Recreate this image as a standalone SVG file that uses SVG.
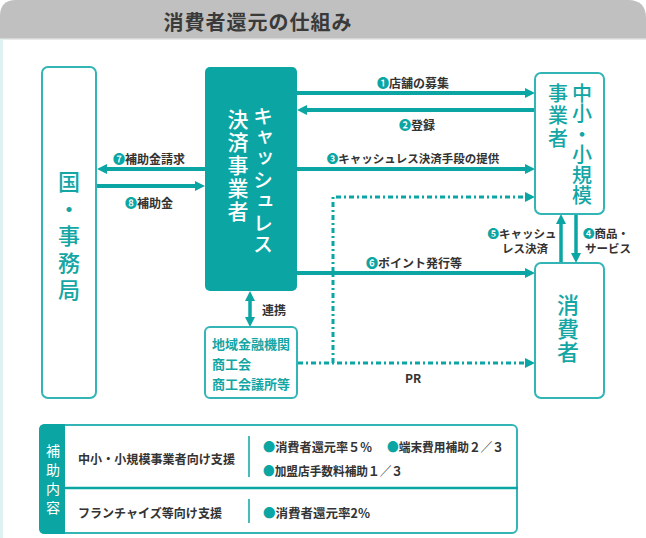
<svg xmlns="http://www.w3.org/2000/svg" width="646" height="538" viewBox="0 0 646 538">
<style>
text{font-family:"Noto Sans CJK JP","Noto Sans",sans-serif}
.lbl{font-size:12px;font-weight:700;fill:#333;text-anchor:middle;dominant-baseline:central}
.num{fill:#0ba6a3}
.ln{stroke:#0ba6a3;stroke-width:4;fill:none}
.vl{stroke:#0ba6a3;stroke-width:3.5;fill:none}
.dot{stroke:#0ba6a3;stroke-width:3;fill:none;stroke-dasharray:5 3 2 3}
.box{fill:#fff;stroke:#33b5b5;stroke-width:2}
.vt{writing-mode:vertical-rl;font-weight:500}
.tq{fill:#14a6a4}
.tb{font-size:12.5px;font-weight:700;fill:#333;dominant-baseline:central}
</style>
<defs>
<marker id="ah" markerUnits="userSpaceOnUse" markerWidth="10" markerHeight="10" refX="4" refY="5" orient="auto-start-reverse" viewBox="0 0 10 10">
<path d="M0,0 L10,5 L0,10 z" fill="#0ba6a3"/>
</marker>
</defs>
<g id="header">
<path d="M0,38 V16 Q0,0 16,0 H628 Q646,0 646,18 V38 Z" fill="#c0c0c0"/>
<rect x="0" y="38" width="646" height="1.5" fill="#d6d6d6"/>
<rect x="0" y="39" width="3" height="499" fill="#e0f1f3"/>
<text x="258" y="21" style="font-size:20px;font-weight:700;fill:#3a3a3a;text-anchor:middle;dominant-baseline:central;letter-spacing:1px">消費者還元の仕組み</text>
</g>
<g id="connectors">
<line class="ln" x1="297" y1="93" x2="529" y2="93" marker-end="url(#ah)"/>
<line class="ln" x1="535" y1="110" x2="303" y2="110" marker-end="url(#ah)"/>
<line class="ln" x1="297" y1="169" x2="529" y2="169" marker-end="url(#ah)"/>
<line class="ln" x1="297" y1="273" x2="529" y2="273" marker-end="url(#ah)"/>
<line class="ln" x1="205" y1="169" x2="103" y2="169" marker-end="url(#ah)"/>
<line class="ln" x1="97" y1="186" x2="199" y2="186" marker-end="url(#ah)"/>
<path class="dot" d="M333,363 V197 H529" marker-end="url(#ah)"/>
<line class="dot" x1="298" y1="363" x2="529" y2="363" marker-end="url(#ah)"/>
<line class="vl" x1="561" y1="263" x2="561" y2="220" marker-end="url(#ah)"/>
<line class="vl" x1="576" y1="214" x2="576" y2="257" marker-end="url(#ah)"/>
<line class="vl" x1="250" y1="297" x2="250" y2="321" marker-start="url(#ah)" marker-end="url(#ah)"/>
<text class="lbl" x="413" y="82"><tspan class="num">❶</tspan>店舗の募集</text>
<text class="lbl" x="417" y="124"><tspan class="num">❷</tspan>登録</text>
<text class="lbl" x="413" y="158" style="font-size:11.5px"><tspan class="num">❸</tspan>キャッシュレス決済手段の提供</text>
<text class="lbl" x="414" y="262"><tspan class="num">❻</tspan>ポイント発行等</text>
<text class="lbl" x="413" y="377">PR</text>
<text class="lbl" x="149" y="158"><tspan class="num">❼</tspan>補助金請求</text>
<text class="lbl" x="149" y="202"><tspan class="num">❽</tspan>補助金</text>
<text class="lbl" x="522" y="233" style="font-size:11.5px"><tspan class="num">❺</tspan>キャッシュ</text>
<text class="lbl" x="525" y="248" style="font-size:11.5px">レス決済</text>
<text class="lbl" x="583" y="233" style="font-size:11.5px;text-anchor:start"><tspan class="num">❹</tspan>商品・</text>
<text class="lbl" x="585" y="248" style="font-size:11.5px;text-anchor:start">サービス</text>
<text class="lbl" x="262" y="309" style="text-anchor:start">連携</text>
</g>
<g id="node-kuni">
<rect class="box" x="42" y="67" width="54" height="331" rx="6"/>
<text class="vt tq" x="69" y="171" style="font-size:22px;letter-spacing:4.8px">国・事務局</text>
</g>
<g id="node-cashless">
<rect x="205" y="67" width="92" height="224" rx="5" fill="#0ba6a3"/>
<text class="vt" x="263" y="106" style="font-size:20px;fill:#fff;letter-spacing:1.4px">キャッシュレス</text>
<text class="vt" x="238" y="109" style="font-size:21px;fill:#fff;letter-spacing:2px">決済事業者</text>
</g>
<g id="node-chusho">
<rect class="box" x="535" y="73" width="69" height="141" rx="6"/>
<text class="vt tq" x="582" y="83" style="font-size:20px;letter-spacing:0.5px">中小・小規模</text>
<text class="vt tq" x="558" y="83" style="font-size:20px;letter-spacing:2.5px">事業者</text>
</g>
<g id="node-consumer">
<rect class="box" x="535" y="263" width="69" height="135" rx="6"/>
<text class="vt tq" x="568" y="294" style="font-size:22px;letter-spacing:1.5px">消費者</text>
</g>
<g id="node-local">
<rect class="box" x="205" y="327" width="92" height="71" rx="5"/>
<text x="212" y="343" style="font-size:13px;font-weight:700;fill:#14a6a4;dominant-baseline:central">地域金融機関</text>
<text x="212" y="363" style="font-size:13px;font-weight:700;fill:#14a6a4;dominant-baseline:central">商工会</text>
<text x="212" y="383" style="font-size:13px;font-weight:700;fill:#14a6a4;dominant-baseline:central">商工会議所等</text>
</g>
<g id="table">
<rect x="40" y="425" width="477" height="108" rx="5" fill="#fff" stroke="#33b5b5" stroke-width="2"/>
<path d="M65,424 V534 H45 Q39,534 39,528 V430 Q39,424 45,424 Z" fill="#0ba6a3"/>
<line x1="65" y1="488" x2="518" y2="488" stroke="#0ba6a3" stroke-width="2.5"/>
<line x1="249" y1="436" x2="249" y2="477" stroke="#0ba6a3" stroke-width="1.5"/>
<line x1="249" y1="499" x2="249" y2="523" stroke="#0ba6a3" stroke-width="1.5"/>
<text class="vt" x="53" y="444" style="font-size:14px;fill:#fff;font-weight:400;letter-spacing:5px">補助内容</text>
<text class="tb" x="78" y="458" textLength="157" lengthAdjust="spacingAndGlyphs">中小・小規模事業者向け支援</text>
<text class="tb" x="78" y="512" textLength="144" lengthAdjust="spacingAndGlyphs">フランチャイズ等向け支援</text>
<text class="tb" x="263" y="446" textLength="109" lengthAdjust="spacingAndGlyphs"><tspan class="num">●</tspan>消費者還元率５%</text>
<text class="tb" x="387" y="446" textLength="117" lengthAdjust="spacingAndGlyphs"><tspan class="num">●</tspan>端末費用補助２／３</text>
<text class="tb" x="263" y="470" textLength="140" lengthAdjust="spacingAndGlyphs"><tspan class="num">●</tspan>加盟店手数料補助１／３</text>
<text class="tb" x="263" y="512" textLength="107" lengthAdjust="spacingAndGlyphs"><tspan class="num">●</tspan>消費者還元率2%</text>
</g>
</svg>
